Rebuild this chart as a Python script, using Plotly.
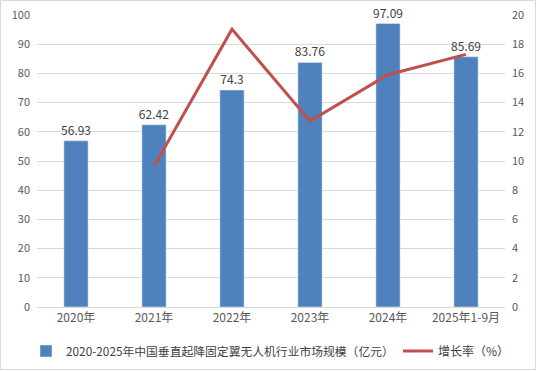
import plotly.graph_objects as go

categories = ["2020年", "2021年", "2022年", "2023年", "2024年", "2025年1-9月"]
market_size = [56.93, 62.42, 74.3, 83.76, 97.09, 85.69]
growth_cats = ["2021年", "2022年", "2023年", "2024年", "2025年1-9月"]
growth_rate = [9.64, 19.03, 12.73, 15.91, 17.3]

bar_name = "2020-2025年中国垂直起降固定翼无人机行业市场规模（亿元）"
line_name = "增长率（%）"

FONT = "Noto Sans CJK SC, Microsoft YaHei, sans-serif"

fig = go.Figure()
fig.add_trace(go.Bar(
    x=categories, y=market_size, name=bar_name, legend="legend",
    marker_color="#4F81BD", width=0.31,
    text=[f"{v:g}" for v in market_size], textposition="outside",
    textfont=dict(size=12, color="#404040"), cliponaxis=False,
    constraintext="none",
))
fig.add_trace(go.Scatter(
    x=growth_cats, y=growth_rate, name=line_name, yaxis="y2", legend="legend2",
    mode="lines", line=dict(color="#C0504D", width=3),
))

W, H = 537, 371
l, r, t, b = 37, 32, 15, 64
pw, ph = W - l - r, H - t - b

leg_common = dict(orientation="h", xanchor="left", xref="container",
                  y=20 / H, yanchor="middle", yref="container",
                  itemwidth=30, bgcolor="rgba(0,0,0,0)")

fig.update_layout(
    width=W, height=H,
    margin=dict(l=l, r=r, t=t, b=b, autoexpand=False),
    paper_bgcolor="white", plot_bgcolor="white",
    font=dict(family=FONT, size=11, color="#595959"),
    showlegend=True,
    legend=dict(x=26 / W, font=dict(size=11.8, color="#404040"), **leg_common),
    legend2=dict(x=398 / W, font=dict(size=12, color="#404040"), **leg_common),
    xaxis=dict(type="category", categoryorder="array", categoryarray=categories,
               showline=True, linecolor="#D9D9D9", linewidth=1, ticks="",
               tickfont=dict(size=12, color="#595959")),
    yaxis=dict(range=[0, 100], dtick=10, showgrid=True, gridcolor="#D9D9D9",
               zeroline=False, ticks="", tickfont=dict(size=11, color="#595959"),
               ticklabelstandoff=6),
    yaxis2=dict(range=[0, 20], dtick=2, overlaying="y", side="right",
                showgrid=False, zeroline=False, ticks="",
                tickfont=dict(size=11, color="#595959"), ticklabelstandoff=6),
    shapes=[dict(type="rect", xref="paper", yref="paper",
                 x0=-(l - 0.5) / pw, x1=1 + (r - 1.5) / pw,
                 y0=-(b - 1.5) / ph, y1=1 + (t - 0.5) / ph,
                 line=dict(color="#D9D9D9", width=1), layer="below")],
)

fig.write_html("out.html", config={"displayModeBar": False},
               post_script="document.body.style.margin='0px';")
